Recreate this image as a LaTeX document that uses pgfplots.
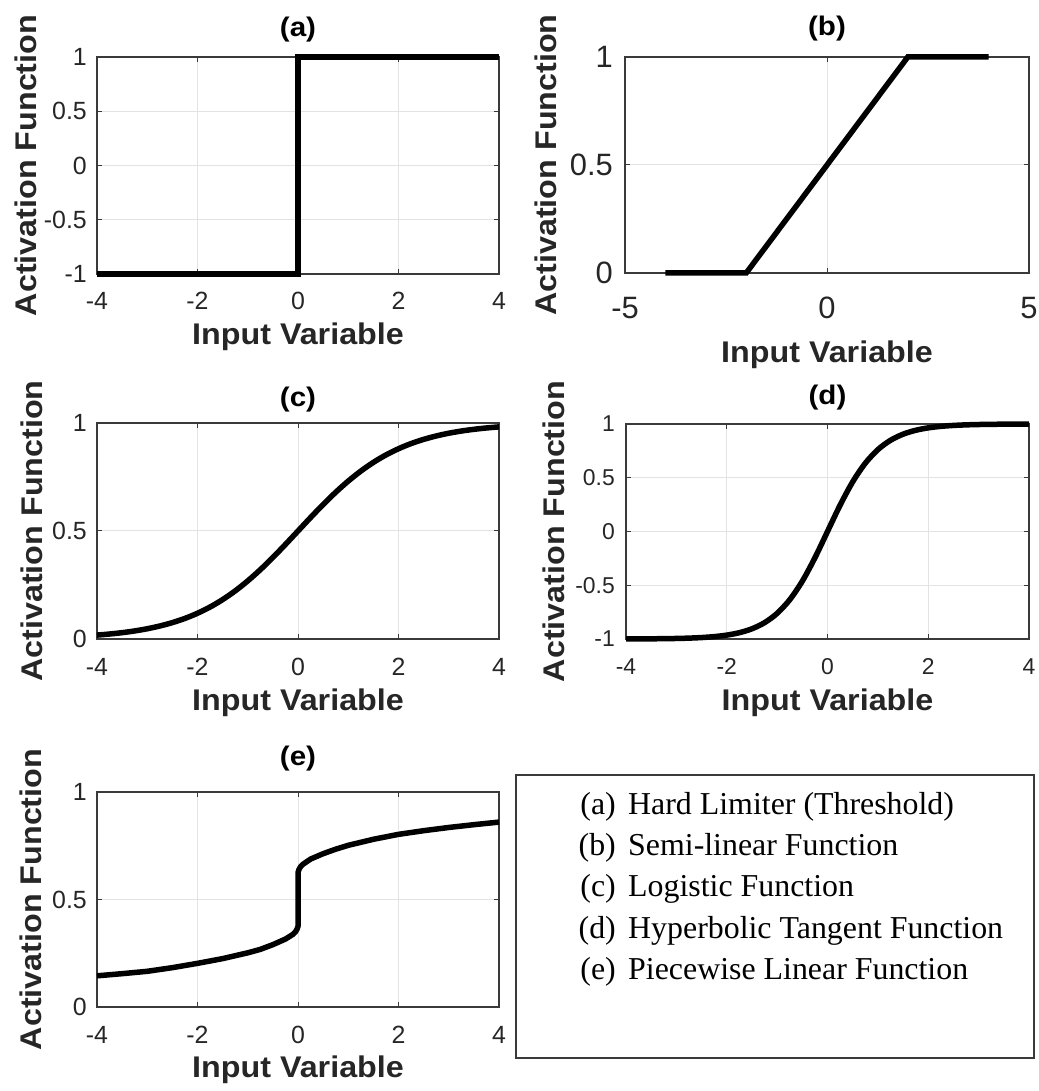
\documentclass[border=0pt]{standalone}
\usepackage{pgfplots}
\pgfplotsset{compat=1.18}
\usepackage{fontspec}
\setmainfont{Liberation Sans}
\newfontfamily\legendfont{Liberation Serif}
\definecolor{axgray}{HTML}{3A3A3A}
\definecolor{gridgray}{HTML}{E3E3E3}
\pgfplotsset{
  panel/.style={
    anchor=south west, scale only axis, clip=false,
    axis line style={axgray, line width=1.3bp},
    tick style={axgray, line width=1bp},
    major tick length=5bp, tick align=inside, tick pos=both,
    grid=major, grid style={gridgray, line width=1bp},
    tick label style={font=\fontsize{25}{27}\selectfont, text=black!85},
    xticklabel style={anchor=center, yshift=-27bp},
    yticklabel style={anchor=east, inner xsep=0pt, xshift=-10bp},
    xlabel={Input Variable}, ylabel={Activation Function},
    label style={font=\bfseries\fontsize{30}{34}\selectfont, text=black!85, xscale=1.08},
    title style={font=\bfseries\fontsize{27}{30}\selectfont, anchor=center, xscale=1.1},
  },
  curve/.style={black, line width=5.5bp, no marks},
}
\begin{document}
\begin{tikzpicture}
\path[use as bounding box] (0,0) rectangle (1039bp,1091bp);

% (a)
\begin{axis}[panel, at={(97bp,817bp)}, width=402bp, height=217bp,
  xmin=-4, xmax=4, ymin=-1, ymax=1,
  xtick={-4,-2,0,2,4}, xticklabels={-4,-2,0,2,4},
  ytick={-1,-0.5,0,0.5,1}, yticklabels={-1,-0.5,0,0.5,1},
  title={(a)}, title style={at={(axis description cs:0.5,1.101)}},
  xlabel style={at={(axis description cs:0.5,-0.29)}, anchor=center},
  ylabel style={at={(axis description cs:-0.177,0.5)}, anchor=center}]
\addplot[curve, line join=miter] coordinates {(-4,-1) (0,-1) (0,1) (4,1)};
\end{axis}

% (b)
\begin{axis}[panel, at={(625bp,818bp)}, width=404bp, height=216bp,
  xmin=-5, xmax=5, ymin=0, ymax=1,
  xtick={-5,0,5}, xticklabels={-5,0,5},
  ytick={0,0.5,1}, yticklabels={0,0.5,1},
  tick label style={font=\fontsize{31}{34}\selectfont},
  xticklabel style={yshift=-8bp},
  yticklabel style={xshift=-2bp},
  title={(b)}, title style={at={(axis description cs:0.5,1.102)}},
  xlabel style={at={(axis description cs:0.5,-0.38)}, anchor=center},
  ylabel style={at={(axis description cs:-0.196,0.5)}, anchor=center}]
\addplot[curve, line join=miter] coordinates {(-4,0) (-2,0) (2,1) (4,1)};
\end{axis}

% (c)
\begin{axis}[panel, at={(97bp,452bp)}, width=402bp, height=216bp,
  xmin=-4, xmax=4, ymin=0, ymax=1,
  xtick={-4,-2,0,2,4}, xticklabels={-4,-2,0,2,4},
  ytick={0,0.5,1}, yticklabels={0,0.5,1},
  xticklabel style={yshift=-1bp},
  title={(c)}, title style={at={(axis description cs:0.5,1.083)}},
  xlabel style={at={(axis description cs:0.5,-0.296)}, anchor=center},
  ylabel style={at={(axis description cs:-0.162,0.5)}, anchor=center}]
\addplot[curve, smooth] coordinates {
(-4,0.0180) (-3.75,0.0230) (-3.5,0.0293) (-3.25,0.0373) (-3,0.0474)
(-2.75,0.0601) (-2.5,0.0759) (-2.25,0.0953) (-2,0.1192) (-1.75,0.1480)
(-1.5,0.1824) (-1.25,0.2227) (-1,0.2689) (-0.75,0.3208) (-0.5,0.3775)
(-0.25,0.4378) (0,0.5) (0.25,0.5622) (0.5,0.6225) (0.75,0.6792)
(1,0.7311) (1.25,0.7773) (1.5,0.8176) (1.75,0.8520) (2,0.8808)
(2.25,0.9047) (2.5,0.9241) (2.75,0.9399) (3,0.9526) (3.25,0.9627)
(3.5,0.9707) (3.75,0.9770) (4,0.9820)};
\end{axis}

% (d)
\begin{axis}[panel, at={(626bp,452bp)}, width=403bp, height=215bp,
  xmin=-4, xmax=4, ymin=-1, ymax=1,
  xtick={-4,-2,0,2,4}, xticklabels={-4,-2,0,2,4},
  ytick={-1,-0.5,0,0.5,1}, yticklabels={-1,-0.5,0,0.5,1},
  tick label style={font=\fontsize{23}{25}\selectfont},
  xticklabel style={yshift=-1bp},
  yticklabel style={xshift=-1bp},
  title={(d)}, title style={at={(axis description cs:0.5,1.095)}},
  xlabel style={at={(axis description cs:0.5,-0.298)}, anchor=center},
  ylabel style={at={(axis description cs:-0.178,0.5)}, anchor=center}]
\addplot[curve, smooth] coordinates {
(-4,-0.9993) (-3.75,-0.9989) (-3.5,-0.9982) (-3.25,-0.9970) (-3,-0.9951)
(-2.75,-0.9919) (-2.5,-0.9866) (-2.25,-0.9780) (-2,-0.9640) (-1.75,-0.9414)
(-1.5,-0.9051) (-1.25,-0.8483) (-1,-0.7616) (-0.75,-0.6351) (-0.5,-0.4621)
(-0.25,-0.2449) (0,0) (0.25,0.2449) (0.5,0.4621) (0.75,0.6351)
(1,0.7616) (1.25,0.8483) (1.5,0.9051) (1.75,0.9414) (2,0.9640)
(2.25,0.9780) (2.5,0.9866) (2.75,0.9919) (3,0.9951) (3.25,0.9970)
(3.5,0.9982) (3.75,0.9989) (4,0.9993)};
\end{axis}

% (e)
\begin{axis}[panel, at={(97bp,84bp)}, width=402bp, height=215bp,
  xmin=-4, xmax=4, ymin=0, ymax=1,
  xtick={-4,-2,0,2,4}, xticklabels={-4,-2,0,2,4},
  ytick={0,0.5,1}, yticklabels={0,0.5,1},
  xticklabel style={yshift=-1bp},
  title={(e)}, title style={at={(axis description cs:0.5,1.13)}},
  xlabel style={at={(axis description cs:0.5,-0.293)}, anchor=center},
  ylabel style={at={(axis description cs:-0.164,0.5)}, anchor=center}]
\addplot[curve, line join=round] coordinates {
(-4,0.145) (-3.5,0.155) (-3,0.166) (-2.5,0.183) (-2,0.203) (-1.5,0.225)
(-1,0.252) (-0.75,0.268) (-0.5,0.290) (-0.25,0.316) (-0.1,0.338)
(-0.05,0.350) (-0.02,0.362) (0,0.375) (0,0.625) (0.02,0.640) (0.05,0.652)
(0.1,0.664) (0.25,0.688) (0.5,0.713) (0.75,0.734) (1,0.752) (1.5,0.780)
(2,0.803) (2.5,0.820) (3,0.835) (3.5,0.848) (4,0.860)};
\end{axis}

% legend box
\draw[axgray, line width=1.3bp] (516bp,33bp) rectangle (1034bp,316bp);
\begin{scope}[every node/.style={inner sep=0pt, font=\legendfont\fontsize{32}{36}\selectfont}]
\node[anchor=base east] at (616bp,276bp) {(a)}; \node[anchor=base west] at (628bp,276bp) {Hard Limiter (Threshold)};
\node[anchor=base east] at (616bp,235bp) {(b)}; \node[anchor=base west] at (628bp,235bp) {Semi-linear Function};
\node[anchor=base east] at (616bp,194bp) {(c)}; \node[anchor=base west] at (628bp,194bp) {Logistic Function};
\node[anchor=base east] at (616bp,152bp) {(d)}; \node[anchor=base west] at (628bp,152bp) {Hyperbolic Tangent Function};
\node[anchor=base east] at (616bp,111bp) {(e)}; \node[anchor=base west] at (628bp,111bp) {Piecewise Linear Function};
\end{scope}
\end{tikzpicture}
\end{document}
